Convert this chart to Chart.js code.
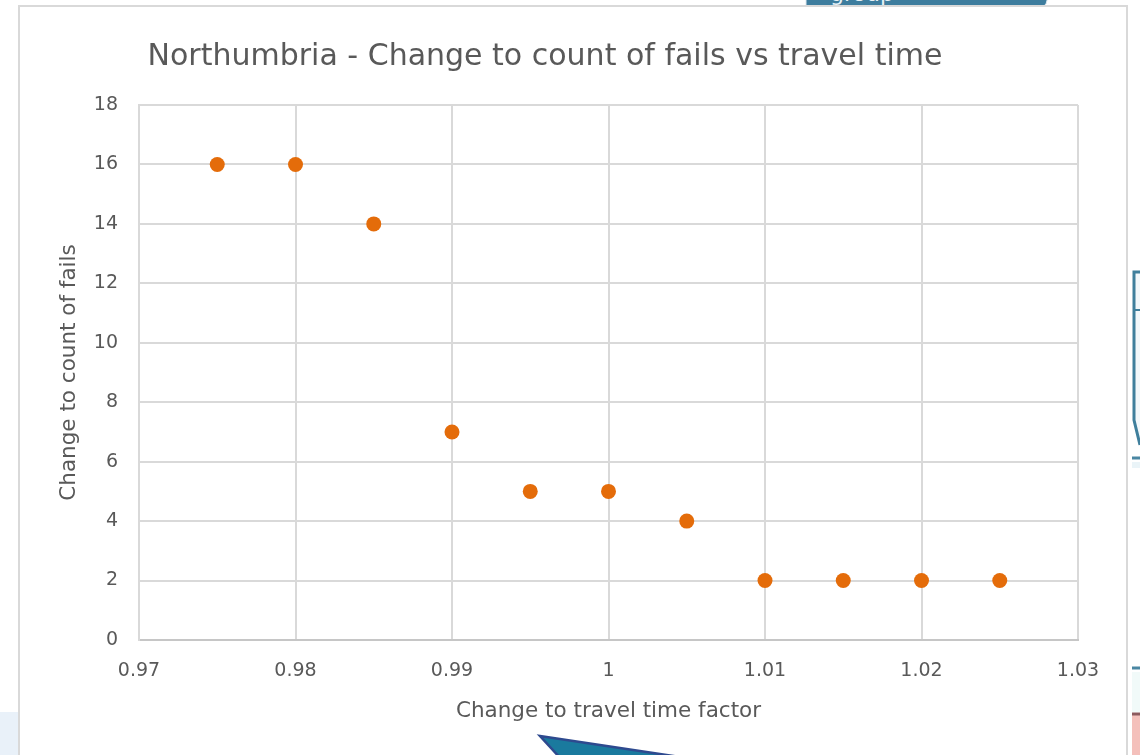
<!DOCTYPE html>
<html>
<head>
<meta charset="utf-8">
<script src="https://cdn.jsdelivr.net/npm/chart.js@4.4.1/dist/chart.umd.min.js"></script>
<style>
  html, body { margin: 0; padding: 0; background: #ffffff; }
  body { width: 1140px; height: 755px; position: relative; overflow: hidden; font-family: "DejaVu Sans", sans-serif; }
  #deco { position: absolute; left: 0; top: 0; }
  #frame { position: absolute; left: 18px; top: 5px; width: 1110px; height: 780px;
           background: #ffffff; border: 2px solid #d9d9d9; box-sizing: border-box; }
  #chart { position: absolute; left: 0; top: 0; }
</style>
</head>
<body>
<!-- slide shapes peeking out around the chart frame -->
<svg id="deco" width="1140" height="755">
  <rect x="0" y="712" width="18" height="43" fill="#e9f1f9"/>
  <path d="M806 -10 L1050 -10 L1046 4 Q1044 7 1040 7 L806 7 Z" fill="#3d7d9e" stroke="#dfe8ef" stroke-width="1"/>
  <text x="830" y="0.5" fill="#e8f1f6" font-family="DejaVu Sans" font-size="22">group</text>
  <path d="M1140 272 L1134 272 L1134 420 L1140 445" fill="#f2f8fb" stroke="#3f7f9c" stroke-width="3"/>
  <line x1="1134" y1="310" x2="1140" y2="310" stroke="#3f7f9c" stroke-width="2"/>
  <line x1="1132" y1="458" x2="1140" y2="458" stroke="#4a87a3" stroke-width="3"/>
  <rect x="1132" y="462" width="8" height="6" fill="#eaf4f8"/>
  <line x1="1132" y1="668" x2="1140" y2="668" stroke="#4a87a3" stroke-width="3"/>
  <rect x="1132" y="672" width="8" height="40" fill="#f1faf9"/>
  <rect x="1132" y="714" width="8" height="41" fill="#f4c0bb"/>
  <line x1="1132" y1="714" x2="1140" y2="714" stroke="#8c5a5e" stroke-width="3"/>
</svg>
<div id="frame"></div>
<svg style="position:absolute;left:0;top:0" width="1140" height="755">
  <path d="M540 736 L700 760 L562 760 Z" fill="#1a7a9e" stroke="#2e4a8f" stroke-width="2.5" stroke-linejoin="miter"/>
</svg>
<canvas id="chart" width="1140" height="755"></canvas>
<script>
// Travel time factor applied to each run
const travelFactor = [0.975, 0.98, 0.985, 0.99, 0.995, 1, 1.005, 1.01, 1.015, 1.02, 1.025];
// Resulting change to the count of fails
const failChange = [16, 16, 14, 7, 5, 5, 4, 2, 2, 2, 2];
// Axis tick values
const xTickValues = [0.97, 0.98, 0.99, 1, 1.01, 1.02, 1.03];
const yTickValues = [0, 2, 4, 6, 8, 10, 12, 14, 16, 18];

const points = travelFactor.map((x, i) => ({ x: x, y: failChange[i] }));

const textColor = '#595959';
const gridColor = '#d9d9d9';
const fontFamily = '"DejaVu Sans", sans-serif';

new Chart(document.getElementById('chart'), {
  type: 'scatter',
  data: {
    datasets: [{
      label: 'Change to count of fails',
      data: points,
      backgroundColor: '#e46c0a',
      borderWidth: 0,
      pointRadius: 7.5,
      pointHoverRadius: 7.5
    }]
  },
  options: {
    responsive: false,
    animation: false,
    devicePixelRatio: 1,
    layout: { padding: { left: 12, right: 62, top: 0, bottom: 0 } },
    plugins: {
      legend: { display: false },
      tooltip: { enabled: false },
      title: {
        display: true,
        text: 'Northumbria - Change to count of fails vs travel time',
        color: textColor,
        font: { family: fontFamily, size: 30, weight: 'normal', lineHeight: 1.2 },
        padding: { top: 39, bottom: 30 }
      }
    },
    scales: {
      x: {
        type: 'linear',
        position: 'bottom',
        min: xTickValues[0],
        max: xTickValues[xTickValues.length - 1],
        afterBuildTicks: (axis) => { axis.ticks = xTickValues.map(v => ({ value: v })); },
        afterFit: (axis) => { axis.height = 115; },
        ticks: {
          color: textColor,
          padding: 20,
          maxRotation: 0,
          font: { family: fontFamily, size: 19 },
          callback: (v) => String(Number(v.toFixed(2)))
        },
        grid: { color: gridColor, lineWidth: 2, drawTicks: false },
        border: { display: true, color: '#c6c6c6', width: 2 },
        title: {
          display: true,
          text: 'Change to travel time factor',
          color: textColor,
          font: { family: fontFamily, size: 21.5 },
          padding: { top: 0, bottom: 31 }
        }
      },
      y: {
        type: 'linear',
        position: 'left',
        min: yTickValues[0],
        max: yTickValues[yTickValues.length - 1],
        afterBuildTicks: (axis) => { axis.ticks = yTickValues.map(v => ({ value: v })); },
        afterFit: (axis) => { axis.width = 127; },
        ticks: {
          color: textColor,
          padding: 21,
          font: { family: fontFamily, size: 19 }
        },
        grid: { color: gridColor, lineWidth: 2, drawTicks: false },
        border: { display: true, color: gridColor, width: 2 },
        title: {
          display: true,
          text: 'Change to count of fails',
          color: textColor,
          font: { family: fontFamily, size: 21.5 },
          padding: { top: 45, bottom: 0 }
        }
      }
    }
  }
});
</script>
</body>
</html>
